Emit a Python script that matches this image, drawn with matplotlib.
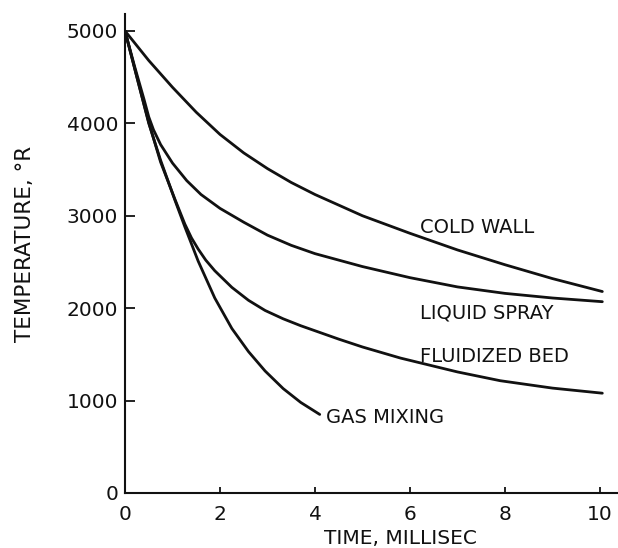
import matplotlib.pyplot as plt

# time in millisec, temperature in deg R
cold_wall_t = [0, 0.5, 1.0, 1.5, 2.0, 2.5, 3.0, 3.5, 4.0, 5.0, 6.0, 7.0, 8.0, 9.0, 10.05]
cold_wall_T = [5000, 4680, 4390, 4120, 3880, 3680, 3510, 3360, 3230, 3000, 2810, 2630, 2470, 2320, 2180]

liquid_spray_t = [0, 0.2, 0.4, 0.5, 0.6, 0.75, 1.0, 1.3, 1.6, 2.0, 2.5, 3.0, 3.5, 4.0, 5.0, 6.0, 7.0, 8.0, 9.0, 10.05]
liquid_spray_T = [5000, 4620, 4260, 4070, 3930, 3770, 3570, 3380, 3230, 3080, 2930, 2790, 2680, 2590, 2450, 2330, 2230, 2160, 2110, 2070]

fluid_bed_t = [0, 0.25, 0.5, 0.75, 1.05, 1.26, 1.4, 1.54, 1.7, 1.89, 2.25, 2.6, 2.95, 3.33, 3.7, 4.5, 5.0, 5.8, 7.0, 7.9, 9.0, 10.05]
fluid_bed_T = [5000, 4500, 4010, 3580, 3180, 2910, 2760, 2640, 2520, 2405, 2225, 2085, 1975, 1885, 1810, 1665, 1580, 1460, 1310, 1215, 1135, 1080]

gas_mix_t = [0, 0.25, 0.5, 0.75, 1.05, 1.26, 1.54, 1.89, 2.25, 2.6, 2.95, 3.33, 3.7, 4.1]
gas_mix_T = [5000, 4500, 4000, 3600, 3170, 2880, 2510, 2110, 1780, 1530, 1320, 1130, 980, 850]

curves = [
    (cold_wall_t, cold_wall_T),
    (liquid_spray_t, liquid_spray_T),
    (fluid_bed_t, fluid_bed_T),
    (gas_mix_t, gas_mix_T),
]

# label text and (t, T) anchor for the left edge of each label
labels = [
    ("COLD WALL", 6.21, 2870),
    ("LIQUID SPRAY", 6.21, 1950),
    ("FLUIDIZED BED", 6.21, 1480),
    ("GAS MIXING", 4.23, 820),
]

x_ticks = [0, 2, 4, 6, 8, 10]
y_ticks = [0, 1000, 2000, 3000, 4000, 5000]

ink = "#111111"

fig = plt.figure(figsize=(6.18, 5.48), dpi=100)
ax = fig.add_axes([125 / 618, 55 / 548, 493 / 618, 479 / 548])

for t, T in curves:
    ax.plot(t, T, color=ink, lw=2.0, solid_capstyle="round", solid_joinstyle="round")

for text, t, T in labels:
    ax.text(t, T, text, ha="left", va="center", fontsize=14, color=ink)

ax.set_xlim(0, 10.38)
ax.set_ylim(0, 5183)
ax.set_xticks(x_ticks)
ax.set_yticks(y_ticks)
ax.set_xticklabels([str(v) for v in x_ticks])
ax.set_yticklabels([str(v) for v in y_ticks])

for side in ("top", "right"):
    ax.spines[side].set_visible(False)
for side in ("left", "bottom"):
    ax.spines[side].set_linewidth(1.5)
    ax.spines[side].set_color(ink)

ax.tick_params(axis="y", direction="in", length=7, width=1.3, pad=5,
               labelsize=14.5, colors=ink)
ax.tick_params(axis="x", direction="in", length=4, width=1.3, pad=9,
               labelsize=14.5, colors=ink)

ax.text(0.558, -0.094, "TIME, MILLISEC", transform=ax.transAxes,
        ha="center", va="center", fontsize=14.5, color=ink)
ax.text(-0.203, 0.52, "TEMPERATURE, °R", transform=ax.transAxes,
        rotation=90, ha="center", va="center", fontsize=15.5, color=ink)

fig.savefig("out.png", dpi=100)
